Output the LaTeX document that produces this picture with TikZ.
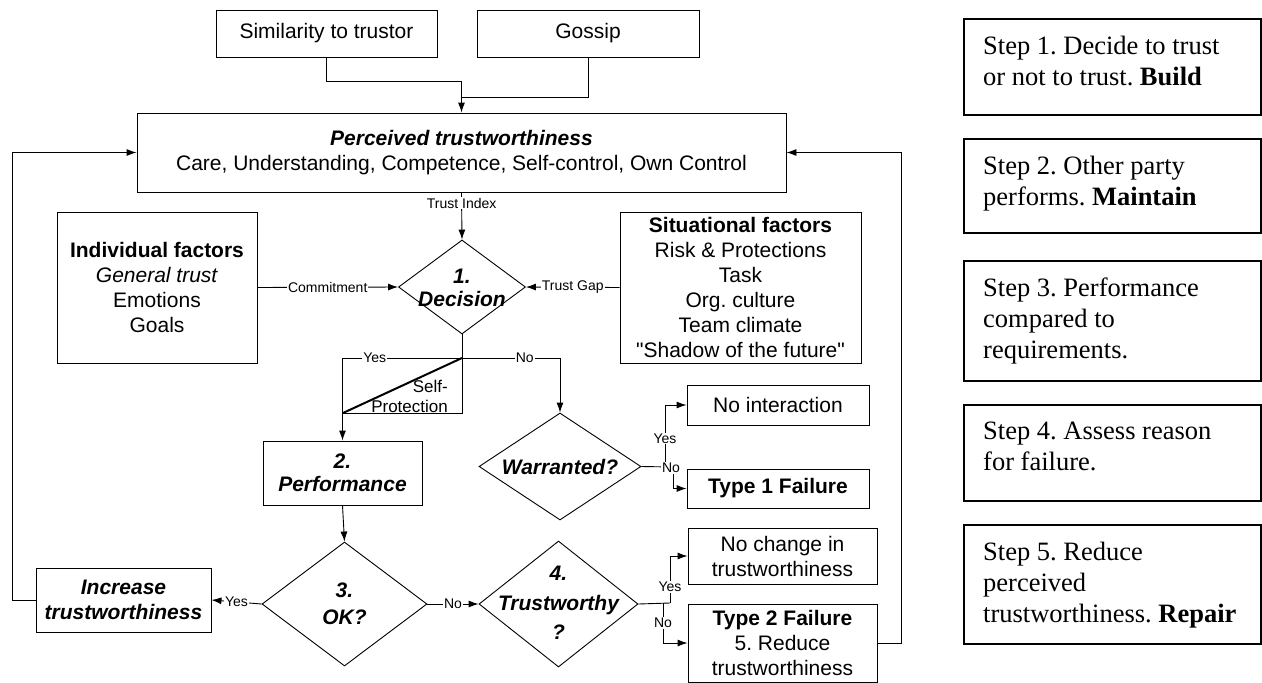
\documentclass[tikz,border=0pt]{standalone}
\usepackage{fontspec}
\setmainfont{Liberation Serif}
\newfontfamily\arial{Liberation Sans}
\usetikzlibrary{arrows.meta,shapes.geometric,calc}
\begin{document}
\frenchspacing
\begin{tikzpicture}[x=1pt,y=-1pt,
  every node/.style={font=\arial},
  box/.style={draw, line width=0.9pt, inner sep=0pt, align=center, font=\arial\fontsize{21}{25}\selectfont},
  dia/.style={draw, diamond, line width=0.9pt, inner sep=0pt},
  dtext/.style={align=center, inner sep=0pt},
  lab/.style={fill=white, inner sep=1pt, font=\arial\fontsize{14}{16}\selectfont},
  conn/.style={line width=0.9pt, -{Latex[length=10pt,width=7pt]}},
  plain/.style={line width=0.9pt},
  stepbox/.style={draw, line width=2pt, minimum width=297pt, inner sep=0pt},
  steptext/.style={anchor=north west, inner sep=0pt, align=left, font=\frenchspacing\fontsize{26.5}{31}\selectfont}
]
\useasboundingbox (0,0) rectangle (1262,683);

% top boxes
\node[box, minimum width=221pt, minimum height=47pt] (sim) at (326.5,33.5) {Similarity to trustor};
\node[box, minimum width=222pt, minimum height=47pt] (gos) at (588,33.5) {Gossip};
\node[box, minimum width=649pt, minimum height=79pt] (perc) at (461.5,152.5)
  {\textbf{\textit{Perceived trustworthiness}}\\Care, Understanding, Competence, Self-control, Own Control};
\node[box, minimum width=200pt, minimum height=151pt] (ind) at (157,287.5)
  {\textbf{Individual factors}\\\textit{General trust}\\Emotions\\Goals};
\node[box, minimum width=241pt, minimum height=151pt] (sit) at (740.5,287.5)
  {\textbf{Situational factors}\\Risk \& Protections\\Task\\Org. culture\\Team climate\\"Shadow of the future"};

% diamonds
\node[dia, minimum width=127pt, minimum height=94pt] (dec) at (462,287) {};
\node[dtext, font=\arial\bfseries\itshape\fontsize{21}{23}\selectfont] (dect) at (462,288) {1.\\Decision};
\node[dia, minimum width=162pt, minimum height=107pt] (war) at (560,466.5) {};
\node[dtext, font=\arial\bfseries\itshape\fontsize{21}{25}\selectfont] (wart) at (560,467) {Warranted?};
\node[dia, minimum width=165pt, minimum height=124pt] (ok) at (344.5,604) {};
\node[dtext, font=\arial\bfseries\itshape\fontsize{21}{27}\selectfont] (okt) at (344.5,603.5) {3.\\OK?};
\node[dia, minimum width=159pt, minimum height=126pt] (tw) at (558.5,604) {};
\node[dtext, font=\arial\bfseries\itshape\fontsize{21}{29.5}\selectfont] (twt) at (558.5,603) {4.\\Trustworthy\\?};

% other boxes
\node[box, minimum width=159pt, minimum height=64pt, font=\arial\bfseries\itshape\fontsize{21}{23}\selectfont] (perf) at (342.5,473) {2.\\Performance};
\node[box, minimum width=175pt, minimum height=64pt, font=\arial\bfseries\itshape\fontsize{21}{25}\selectfont] (inc) at (123.5,600) {Increase\\trustworthiness};
\node[box, minimum width=182pt, minimum height=40pt] (noint) at (778,405) {No interaction};
\node[box, minimum width=182pt, minimum height=39pt] (t1) at (778,488.5) {\textbf{Type 1 Failure}};
\node[box, minimum width=189pt, minimum height=56pt] (nochg) at (782.5,556) {No change in\\trustworthiness};
\node[box, minimum width=189pt, minimum height=78pt] (t2) at (782.5,643) {\textbf{Type 2 Failure}\\5. Reduce\\trustworthiness};

% coordinates
\coordinate (j1) at (461.5,81);
\coordinate (j2) at (461.5,97);
\coordinate (split) at (462,358);
\coordinate (tri1) at (343,413);
\coordinate (tri2) at (462,413);
\coordinate (lc) at (12,600);
\coordinate (rc) at (901,643);
\coordinate (wy) at (665,467);
\coordinate (wn) at (673,467);
\coordinate (ty) at (670,603);
\coordinate (tn) at (663,603);

% connectors
\draw[conn] (sim.south) |- (j1) -- (perc.north);
\draw[plain] (gos.south) |- (j2);
\draw[conn] (perc.south) -- node[lab, pos=0.23] (ti) {Trust Index} (dec.north);
\draw[conn] (ind.east) -- node[lab] (cm) {Commitment} (dec.west);
\draw[conn] (sit.west) -- node[lab] (tg) {Trust Gap} (dec.east);
\draw[plain] (dec.south) -- (split);
\draw[conn] (split) -| node[lab, pos=0.365] (y1) {Yes} (perf.north);
\draw[conn] (split) -| node[lab, pos=0.32] (n1) {No} (war.north);
\draw[plain] (split) -- (tri2) -- (tri1);
\draw[line width=2pt] (tri1) -- (split);
\node[anchor=south east, align=right, inner sep=0pt, font=\arial\fontsize{17}{20}\selectfont] (sp) at (448,413) {Self-\\Protection};

\draw[conn] (perf.south) -- (ok.north);
\draw[conn] (ok.west) -- node[lab] (y3) {Yes} (inc.east);
\draw[conn] (ok.east) -- node[lab] (n3) {No} (tw.west);
\draw[conn] (inc.west) -- (lc) |- (perc.west);
\draw[conn] (t2.east) -- (rc) |- (perc.east);

\draw[plain] (war.east) -- (wn);
\draw[conn] (wy) |- node[lab, pos=0.23] (y2) {Yes} (noint.west);
\draw[conn] (wn) |- (t1.west);
\node[lab] (n2) at (671,468) {No};

\draw[plain] (tw.east) -- (ty);
\draw[conn] (ty) |- node[lab, pos=0.17] (y4) {Yes} (nochg.west);
\draw[conn] (tn) |- node[lab, pos=0.25] (n4) {No} (t2.west);

% step boxes
\node[stepbox, minimum height=96pt] (s1) at (1112.5,67) {};
\node[stepbox, minimum height=94pt] (s2) at (1112.5,186) {};
\node[stepbox, minimum height=120pt] (s3) at (1112.5,321) {};
\node[stepbox, minimum height=96pt] (s4) at (1112.5,453) {};
\node[stepbox, minimum height=119pt] (s5) at (1112.5,584.5) {};
\node[steptext] (s1t) at ($(s1.north west)+(20,18)$) {Step 1. Decide to trust\\or not to trust. \textbf{Build}};
\node[steptext] (s2t) at ($(s2.north west)+(20,18)$) {Step 2. Other party\\performs. \textbf{Maintain}};
\node[steptext] (s3t) at ($(s3.north west)+(20,18)$) {Step 3. Performance\\compared to\\requirements.};
\node[steptext] (s4t) at ($(s4.north west)+(20,18)$) {Step 4. Assess reason\\for failure.};
\node[steptext] (s5t) at ($(s5.north west)+(20,18)$) {Step 5. Reduce\\perceived\\trustworthiness. \textbf{Repair}};
\end{tikzpicture}
\end{document}
